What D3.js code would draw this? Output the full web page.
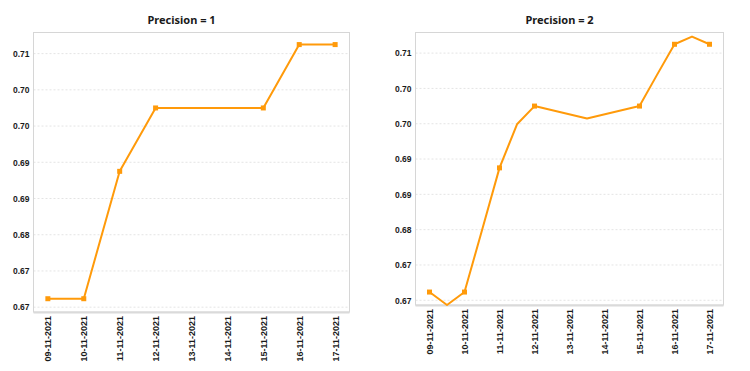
<!DOCTYPE html>
<html>
<head>
<meta charset="utf-8">
<script src="https://cdn.jsdelivr.net/npm/d3@7"></script>
<style>
  body { margin: 0; background: #fff; }
  svg { display: block; font-family: "Noto Sans", sans-serif; }
  .tick text { font-weight: bold; fill: #1a1a1a; }
</style>
</head>
<body>
<div id="chart"></div>
<script>
// x categories (one per day)
const dates = ["09-11-2021", "10-11-2021", "11-11-2021", "12-11-2021", "13-11-2021",
  "14-11-2021", "15-11-2021", "16-11-2021", "17-11-2021"];

// y tick values (labels shown with 2 decimals)
const yTicks = [0.668, 0.674, 0.680, 0.686, 0.692, 0.698, 0.704, 0.710];
const yDomain = [0.6672, 0.7135];

// Precision = 1 : day index / value
const p1Days = [0, 1, 2, 3, 6, 7, 8];
const p1Values = [0.6694, 0.6694, 0.6905, 0.7010, 0.7010, 0.7115, 0.7115];

// Precision = 2 : half-day steps, markers only on whole days
const p2Days = [0, 0.5, 1, 1.5, 2, 2.5, 3, 4.5, 6, 6.5, 7, 7.5, 8];
const p2Values = [0.6694, 0.6672, 0.6694, 0.6799, 0.6905, 0.6979, 0.7010, 0.6989, 0.7010, 0.7063, 0.7115, 0.7128, 0.7115];

const width = 750, height = 371;
const svg = d3.select('#chart').append('svg')
  .attr('width', width)
  .attr('height', height);

const fmt = d3.format('.2f');
const orange = '#ff9a0a';

function drawPanel(title, days, values, box) {
  const g = svg.append('g');
  const x = d3.scaleLinear().domain([-0.4, dates.length - 1 + 0.4]).range([box.left, box.right]);
  const y = d3.scaleLinear().domain(yDomain).range([box.bottom, box.top]);

  // grid lines
  g.append('g')
    .selectAll('line')
    .data(yTicks)
    .join('line')
    .attr('x1', box.left).attr('x2', box.right)
    .attr('y1', d => y(d)).attr('y2', d => y(d))
    .attr('stroke', '#e4e4e4')
    .attr('stroke-dasharray', '2,2');

  // frame
  g.append('rect')
    .attr('x', box.left).attr('y', box.top)
    .attr('width', box.right - box.left).attr('height', box.bottom - box.top)
    .attr('fill', 'none')
    .attr('stroke', '#d6d6d6');
  g.append('line')
    .attr('x1', box.left).attr('x2', box.right)
    .attr('y1', box.bottom + 0.5).attr('y2', box.bottom + 0.5)
    .attr('stroke', '#dadada')
    .attr('stroke-width', 2);

  // y axis
  const yAxis = g.append('g')
    .attr('transform', `translate(${box.left},0)`)
    .call(d3.axisLeft(y).tickValues(yTicks).tickFormat(fmt).tickSize(0).tickPadding(4));
  yAxis.select('.domain').remove();
  yAxis.selectAll('text').style('font-size', '8.5px');

  // x axis
  const xAxis = g.append('g')
    .attr('transform', `translate(0,${box.bottom})`)
    .call(d3.axisBottom(x).tickValues(d3.range(dates.length)).tickFormat(i => dates[i]).tickSize(0));
  xAxis.select('.domain').remove();
  xAxis.selectAll('text')
    .style('font-size', '9px')
    .attr('text-anchor', 'end')
    .attr('dx', '-4px')
    .attr('dy', '0.32em')
    .attr('transform', 'rotate(-90)')
    .attr('x', 0).attr('y', 0);

  // title, centred over labels + plot
  g.append('text')
    .attr('x', (box.left - 20 + box.right) / 2)
    .attr('y', 24)
    .attr('text-anchor', 'middle')
    .style('font-size', '11px')
    .style('font-weight', 'bold')
    .attr('fill', '#1a1a1a')
    .text(title);

  const pts = days.map((d, i) => [d, values[i]]);
  g.append('path')
    .datum(pts)
    .attr('fill', 'none')
    .attr('stroke', orange)
    .attr('stroke-width', 2)
    .attr('stroke-linejoin', 'round')
    .attr('d', d3.line().x(d => x(d[0])).y(d => y(d[1])));

  g.append('g')
    .selectAll('rect')
    .data(pts.filter(d => Number.isInteger(d[0])))
    .join('rect')
    .attr('x', d => x(d[0]) - 2.5)
    .attr('y', d => y(d[1]) - 2.5)
    .attr('width', 5).attr('height', 5)
    .attr('fill', orange);
}

drawPanel('Precision = 1', p1Days, p1Values, {left: 33.5, right: 349.5, top: 32.5, bottom: 312});
drawPanel('Precision = 2', p2Days, p2Values, {left: 415.5, right: 723.5, top: 32.5, bottom: 305});
</script>
</body>
</html>
